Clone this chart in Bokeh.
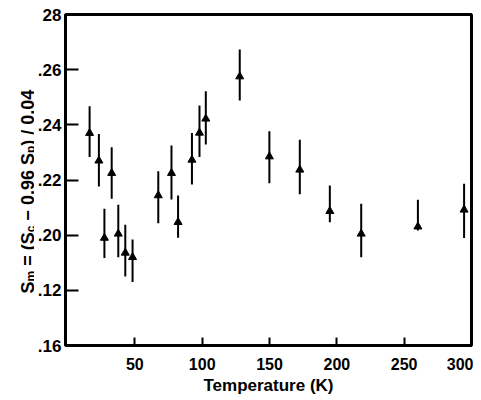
from bokeh.plotting import figure
from bokeh.layouts import row
from bokeh.models import Range1d, FixedTicker
from bokeh.core.properties import value
from bokeh.embed import file_html
from bokeh.resources import INLINE

# Data
temperature = [16.4, 23.3, 27.4, 32.8, 37.7, 42.9, 48.3, 67.4, 77.2, 82.1,
               92.4, 98.0, 102.7, 127.9, 149.9, 172.5, 194.8, 218.1, 260.2, 294.5]
s_m = [0.237, 0.227, 0.199, 0.2225, 0.2005, 0.1936, 0.192, 0.2144, 0.2225, 0.2047,
       0.2273, 0.2371, 0.2422, 0.2575, 0.2285, 0.2237, 0.2087, 0.2005, 0.2031, 0.2092]
err_hi = [0.2467, 0.2367, 0.2096, 0.2319, 0.2110, 0.2038, 0.1984, 0.2232, 0.2325, 0.2144,
          0.2370, 0.2470, 0.2522, 0.2673, 0.2377, 0.2346, 0.2180, 0.2114, 0.2128, 0.2186]
err_lo = [0.2283, 0.2176, 0.1917, 0.2132, 0.1920, 0.1850, 0.1830, 0.2043, 0.2129, 0.1991,
          0.2184, 0.2283, 0.2329, 0.2488, 0.2188, 0.2148, 0.2047, 0.1920, 0.2017, 0.1990]

xticks = [50, 100, 150, 200, 250, 300]
yticks = [0.16, 0.18, 0.20, 0.22, 0.24, 0.26, 0.28]
ytick_labels = [".16", ".12", ".20", ".22", ".24", ".26", "28"]
x_label = "Temperature (K)"
# y-axis label pieces: (text, is_subscript, gap_before in em/1000)
ylabel_pieces = [("S", False, 0), ("m", True, 0), ("= (S", False, 278), ("c", True, 0),
                 ("\u2212 0.96 S", False, 278), ("p", True, 0), (") / 0.04", False, 0)]
# approximate advance widths (Liberation Sans Bold, per 1000 em)
piece_widths = [667, 889, 1862, 556, 3753, 611, 3113]

FONT = "Liberation Sans"
X0, X1 = -1.5, 300
Y0, Y1 = 0.16, 0.28
H = 400
WL = 34                      # width of the y-label strip
W = 473 - WL
BL, BR, BT = 63 - WL, 2, 14
BB = H - 345

# ---- y-axis label strip (rotated text with subscripts) ----
# the row aligns this strip's frame with the main frame (rows BT .. H-BB),
# so its y range is given in pixels measured from the bottom of the page
lab = figure(width=WL, height=H, output_backend="svg", toolbar_location=None,
             x_range=Range1d(0, WL), y_range=Range1d(BB, H - BT),
             x_axis_type=None, y_axis_type=None, min_border=0,
             outline_line_color=None, background_fill_color="white",
             border_fill_color="white", title=None)
lab.grid.visible = False
main_size, sub_size = 18, 12
base_x, sub_x = 27.0, 30.5
start_y = H - 293
mx, my, mt, sx, sy, st = [], [], [], [], [], []
cur = 0.0
for (txt, is_sub, gap), wdt in zip(ylabel_pieces, piece_widths):
    cur += gap * main_size / 1000
    if is_sub:
        sx.append(sub_x); sy.append(start_y + cur); st.append(txt)
        cur += wdt * sub_size / 1000
    else:
        mx.append(base_x); my.append(start_y + cur); mt.append(txt)
        cur += wdt * main_size / 1000
lab.text(x=mx, y=my, text=mt, angle=1.5707963267948966, text_align="left",
         text_baseline="alphabetic", text_font=value(FONT), text_font_style="bold",
         text_font_size=f"{main_size}px", text_color="black")
lab.text(x=sx, y=sy, text=st, angle=1.5707963267948966, text_align="left",
         text_baseline="alphabetic", text_font=value(FONT), text_font_style="bold",
         text_font_size=f"{sub_size}px", text_color="black")

# ---- main plot ----
p = figure(width=W, height=H, output_backend="svg", toolbar_location=None,
           x_range=Range1d(X0, X1), y_range=Range1d(Y0, Y1),
           min_border_left=BL, min_border_right=BR, min_border_top=BT,
           min_border_bottom=BB, background_fill_color="white",
           border_fill_color="white")
p.grid.visible = False
p.outline_line_color = "black"
p.outline_line_width = 3

p.segment(temperature, err_lo, temperature, err_hi, line_color="black", line_width=2)
p.scatter(temperature, s_m, marker="triangle", size=8, color="black")

for ax in (p.xaxis, p.yaxis):
    ax.axis_line_width = 3
    ax.axis_line_color = "black"
    ax.major_tick_line_color = "black"
    ax.major_tick_line_width = 2
    ax.major_tick_out = 0
    ax.minor_tick_line_color = None
    ax.major_label_text_font = FONT
    ax.major_label_text_font_style = "bold"
    ax.major_label_text_color = "black"

p.xaxis.ticker = FixedTicker(ticks=xticks)
p.xaxis.major_label_text_font_size = "16px"
p.xaxis.major_tick_in = 8
p.xaxis.major_label_standoff = 12
p.xaxis.axis_label = x_label
p.xaxis.axis_label_text_font = FONT
p.xaxis.axis_label_text_font_style = "bold"
p.xaxis.axis_label_text_font_size = "17px"
p.xaxis.axis_label_text_color = "black"
p.xaxis.axis_label_standoff = 3

p.yaxis.ticker = FixedTicker(ticks=yticks)
p.yaxis.major_label_overrides = {t: l for t, l in zip(yticks, ytick_labels)}
p.yaxis.major_label_text_font_size = "17px"
p.yaxis.major_tick_in = 13
p.yaxis.major_label_standoff = 4

layout = row(lab, p, spacing=0)
open("out.html", "w").write(file_html(layout, INLINE))
